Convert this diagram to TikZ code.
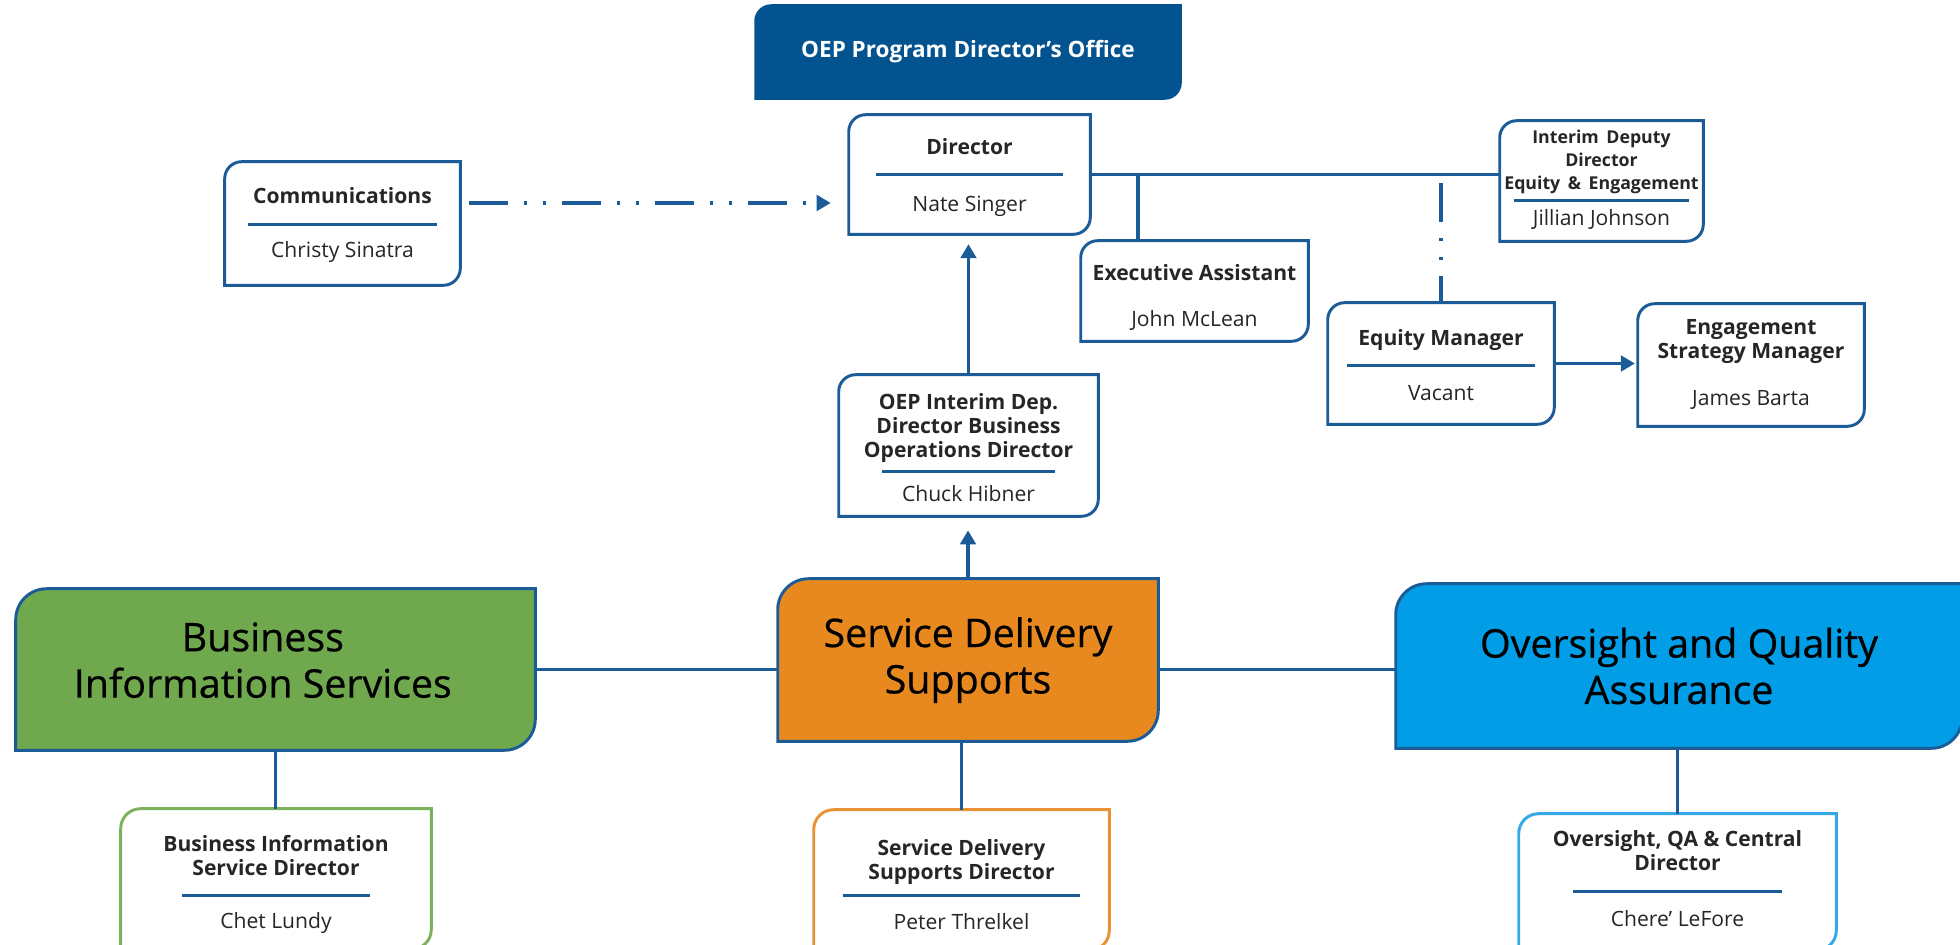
\documentclass[tikz,border=0pt]{standalone}
\usepackage{fontspec}
\setmainfont{Open Sans}
\newfontfamily\unitfont{Open Sans}[FakeBold=0.6]
\usepackage{tikz}
\usetikzlibrary{arrows.meta, backgrounds}
\definecolor{navy}{HTML}{02538F}
\definecolor{linkblue}{HTML}{1B5C98}
\definecolor{bisgreen}{HTML}{70A84E}
\definecolor{sdsorange}{HTML}{E8891F}
\definecolor{oqablue}{HTML}{019DE6}
\definecolor{bisline}{HTML}{7CB05A}
\definecolor{sdsline}{HTML}{E89434}
\definecolor{oqaline}{HTML}{35A8E8}
\newcommand{\hsep}[1]{{\color{linkblue}\rule{#1}{2pt}}}
\tikzset{
  wh/.style 2 args = {minimum width=#1*0.025cm, minimum height=#2*0.025cm},
  tall/.style      = {text height=#1, text depth=0pt},
  card/.style      = {inner sep=0pt, align=center, text=black!85, font=\fontsize{15}{17}\selectfont},
  unit/.style      = {inner sep=0pt, align=center, text=black, font=\unitfont\fontsize{28}{33}\selectfont},
  link/.style      = {draw=linkblue, line width=2.8pt},
  arr/.style       = {link, -{Triangle[length=10pt, width=11pt]}},
  talk/.style      = {link, dash pattern=on 27.7pt off 11.4pt on 2.1pt off 11.4pt on 2.1pt off 11.4pt}
}

\begin{document}
\begin{tikzpicture}[x=0.025cm, y=-0.025cm]
  \useasboundingbox (0,0) rectangle (1960,945);

  % top office and director level
  \node[card, wh={424}{92}, text=white, font=\fontsize{16}{18}\selectfont\bfseries] (office) at (968,52) {OEP Program Director’s Office};
  \node[card, wh={241}{119}, tall=52pt] (dir) at (969.5,174.5) {\textbf{Director}\\[-2pt]\hsep{133pt}\\[8pt]Nate Singer};
  \node[card, wh={235}{123}, tall=49pt] (comms) at (342.5,223.5) {\textbf{Communications}\\[-1pt]\hsep{134pt}\\[6pt]Christy Sinatra};
  \node[card, wh={203}{120}, tall=64pt, font=\fontsize{12.6}{16.5}\selectfont] (idd) at (1601.5,181)
    {\textbf{Interim\, Deputy}\\\textbf{Director}\\\textbf{Equity \,\&\, Engagement}\\[-7.7pt]\hsep{124pt}\\[0.6pt]{\fontsize{15}{17}\selectfont Jillian Johnson}};
  \node[card, wh={227}{100}, tall=51pt] (exa) at (1194.5,291) {\textbf{Executive Assistant}\\[15.7pt]John McLean};
  \node[card, wh={226}{121}, tall=52pt] (eqm) at (1441,363.5) {\textbf{Equity Manager}\\[-2pt]\hsep{134pt}\\[6.5pt]Vacant};
  \node[card, wh={226}{122}, tall=57pt] (esm) at (1751,365) {\textbf{Engagement}\\\textbf{Strategy Manager}\\[16.4pt]James Barta};
  \node[card, wh={259}{141}, tall=79pt] (oid) at (968.5,445.5)
    {\textbf{OEP Interim Dep.}\\\textbf{Director Business}\\\textbf{Operations Director}\\[-5.7pt]\hsep{123pt}\\[3pt]Chuck Hibner};

  % the three units
  \node[unit, wh={519}{161}, tall=40pt] (bis) at (275.5,669.5) {Business\hspace*{18pt}\\Information Services\hspace*{18pt}};
  \node[unit, wh={380}{162}] (sds) at (968,660) {Service Delivery\\Supports};
  \node[unit, wh={566}{164}] (oqa) at (1679,666) {Oversight and Quality\\Assurance};

  \node[card, wh={310}{140}, tall=70pt] (bisd) at (276,879)
    {\textbf{Business Information}\\\textbf{Service Director}\\[-1.4pt]\hsep{134pt}\\[5pt]Chet Lundy};
  \node[card, wh={295}{140}, tall=71pt] (sdsd) at (961.5,880)
    {\textbf{Service Delivery}\\\textbf{Supports Director}\\[-4.3pt]\hsep{169pt}\\[6.5pt]Peter Threlkel};
  \node[card, wh={317}{136}, tall=63pt] (oqad) at (1677.5,882)
    {\textbf{Oversight, QA \& Central}\\\textbf{Director}\\[-1.4pt]\hsep{149pt}\\[7pt]Chere’ LeFore};

  % frames: round top left and bottom right
  \begin{scope}[on background layer]
    \foreach \n/\ln/\fl/\r in {office/navy/navy/11, dir/linkblue/white/12, comms/linkblue/white/12,
        idd/linkblue/white/12, exa/linkblue/white/12, eqm/linkblue/white/12, esm/linkblue/white/12,
        oid/linkblue/white/12, bis/linkblue/bisgreen/22, sds/linkblue/sdsorange/22,
        oqa/linkblue/oqablue/22, bisd/bisline/white/14, sdsd/sdsline/white/14, oqad/oqaline/white/14}
      \draw[draw=\ln, fill=\fl, line width=2.1pt]
        (\n.south west) -- ([yshift=-\r pt]\n.north west)
        arc[start angle=180, end angle=90, radius=\r pt] -- (\n.north east)
        -- ([yshift=\r pt]\n.south east)
        arc[start angle=0, end angle=-90, radius=\r pt] -- cycle;
  \end{scope}

  % connectors
  \coordinate (cm) at ([yshift=14.6pt]comms.east);
  \draw[talk, -{Triangle[length=10pt, width=11pt]}, shorten <=6.4pt, shorten >=12.8pt] (cm) -- (cm -| dir.west);
  \draw[link] (dir.east) -- (dir.east -| idd.west);
  \coordinate (ea) at ([xshift=-40pt]exa.north);
  \draw[link] (ea) -- (ea |- dir.east);
  \draw[talk, shorten <=6.4pt] (eqm.north |- dir.east) -- (eqm.north);
  \draw[arr, shorten >=2pt] (eqm.east) -- (eqm.east -| esm.west);
  \draw[arr, shorten >=7pt] (oid.north) -- (oid.north |- dir.south);
  \draw[arr, shorten >=10pt] (sds.north) -- (sds.north |- oid.south);
  \draw[link] (bis.east) -- (bis.east -| sds.west);
  \draw[link] (bis.east -| sds.east) -- (bis.east -| oqa.west);
  \draw[link] (bis.south) -- (bis.south |- bisd.north);
  \draw[link] (sdsd.north) -- (sdsd.north |- sds.south);
  \draw[link] (oqad.north) -- (oqad.north |- oqa.south);
\end{tikzpicture}
\end{document}
